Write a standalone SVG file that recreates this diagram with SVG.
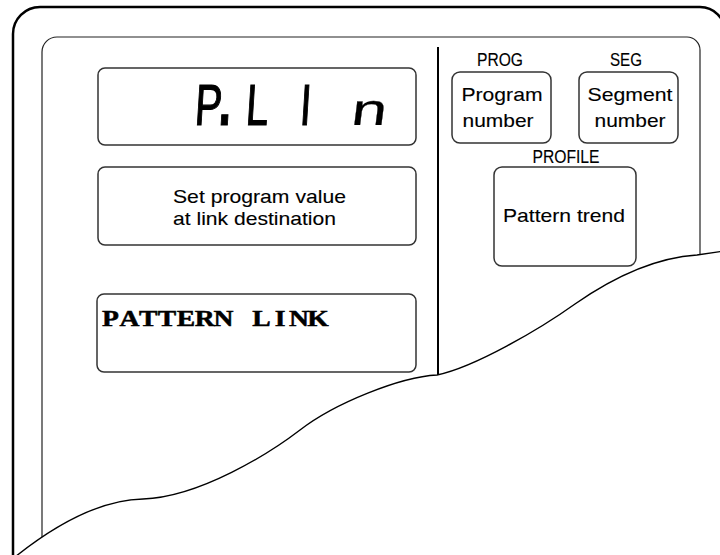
<svg xmlns="http://www.w3.org/2000/svg" width="720" height="555" viewBox="0 0 720 555">
<style>
.box{fill:none;stroke:#333;stroke-width:1.5}
.t{font-family:"Liberation Sans",Arial,sans-serif;font-size:19px;fill:#000;stroke:#000;stroke-width:0.12}
.lbl{font-family:"Liberation Sans",Arial,sans-serif;font-size:18px;fill:#000;text-anchor:middle;stroke:#000;stroke-width:0.15}
.mid{text-anchor:middle}
.mono{font-family:"Liberation Serif","Times New Roman",serif;font-weight:bold;font-size:23px;fill:#000;text-anchor:middle;stroke:#000;stroke-width:0.5}
.seg{font-family:"Liberation Sans",Arial,sans-serif;font-size:58px;fill:#000;stroke:#000;stroke-width:1.2}
</style>
<rect width="720" height="555" fill="#fff"/>
<g id="frame">
<path d="M13 560 L13 34 A27 27 0 0 1 40 7 L700 7 A25 25 0 0 1 725 32 L725 560" fill="none" stroke="#000" stroke-width="2.5"/>
<path d="M42 560 L42 52 A15 15 0 0 1 57 37 L687 37 A13 13 0 0 1 700 50 L700 560" fill="none" stroke="#222" stroke-width="1.2"/>
<line x1="438" y1="47" x2="438" y2="420" stroke="#000" stroke-width="2"/>
</g>
<g id="display">
<rect class="box" x="98" y="68" width="318" height="77" rx="7"/>
<g transform="translate(0,125) scale(0.7,1) skewX(-5)">
<text class="seg" y="0"><tspan x="277">P</tspan><tspan x="307" font-size="95">.</tspan><tspan x="350">L</tspan><tspan x="427">I</tspan></text>
</g>
<text class="seg" transform="translate(350,125) scale(1.1,0.77) skewX(-5)" x="0" y="0" style="stroke-width:0.3">n</text>
</g>
<g id="message">
<rect class="box" x="98" y="167" width="318" height="78" rx="7"/>
<text class="t" x="173" y="203" textLength="173" lengthAdjust="spacingAndGlyphs">Set program value</text>
<text class="t" x="173" y="225" textLength="163" lengthAdjust="spacingAndGlyphs">at link destination</text>
</g>
<g id="guide">
<rect class="box" x="97" y="294" width="319" height="78" rx="7"/>
<g transform="translate(0,326) scale(1.2,1)">
<text class="mono" x="92.1 107.8 123.5 139.2 154.9 170.6 186.3 202.0 217.8 233.5 249.2 264.9" y="0">PATTERN LINK</text>
</g>
</g>
<g id="prog">
<text class="lbl" x="500" y="66" textLength="46" lengthAdjust="spacingAndGlyphs">PROG</text>
<rect class="box" x="452" y="72" width="99" height="71" rx="8"/>
<text class="t mid" x="502" y="101" textLength="81" lengthAdjust="spacingAndGlyphs">Program</text>
<text class="t mid" x="498" y="127" textLength="71" lengthAdjust="spacingAndGlyphs">number</text>
</g>
<g id="seg">
<text class="lbl" x="626" y="66" textLength="32" lengthAdjust="spacingAndGlyphs">SEG</text>
<rect class="box" x="579" y="72" width="99" height="71" rx="8"/>
<text class="t mid" x="630" y="101" textLength="85" lengthAdjust="spacingAndGlyphs">Segment</text>
<text class="t mid" x="630" y="127" textLength="71" lengthAdjust="spacingAndGlyphs">number</text>
</g>
<g id="profile">
<text class="lbl" x="566" y="163" textLength="67" lengthAdjust="spacingAndGlyphs">PROFILE</text>
<rect class="box" x="494" y="167" width="142" height="99" rx="8"/>
<text class="t mid" x="564" y="222" textLength="122" lengthAdjust="spacingAndGlyphs">Pattern trend</text>
</g>
<g id="tear">
<path d="M15 557 C55 525 100 500 143 499 C200 497 270 453 300 430 C335 403 400 377 437 375 C475 367 540 329 575 304 C608 281 650 258 697 255 L724 251 L724 560 L15 560 Z" fill="#fff" stroke="#000" stroke-width="1.4"/>
</g>
</svg>
